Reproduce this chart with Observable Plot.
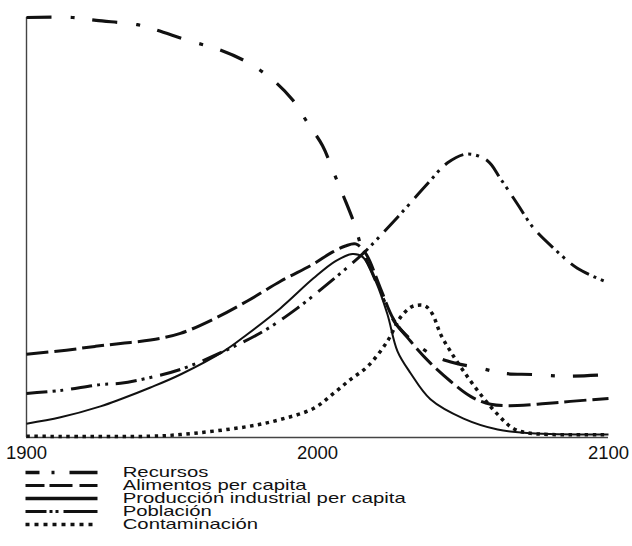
<!DOCTYPE html>
<html>
<head>
<meta charset="utf-8">
<script src="https://cdn.jsdelivr.net/npm/d3@7"></script>
<script src="https://cdn.jsdelivr.net/npm/@observablehq/plot@0.6"></script>
<style>
  html, body { margin: 0; padding: 0; background: #fff; }
  #chart svg, #legend svg { display: block; }
</style>
</head>
<body>
<div id="chart"></div>
<div id="legend"></div>
<script>
// Series values: [year, value (share of full height, 0-100)]
const recursos = [[1900,100],[1915.8,100],[1924,99.3],[1938,98.3],[1944.3,97.1],[1955.7,94.5],[1966,92.4],[1976,89.3],[1984.9,85],[1991.4,80.4],[1996.6,74.9],[2001.7,69.5],[2005.5,63.2],[2008.9,57.5],[2012.7,50.8],[2015.5,44.4],[2018.9,39.1],[2022.7,32.9],[2026.8,27.2],[2033.7,22.4],[2040.5,19.3],[2047.4,17.7],[2056,16.5],[2063.6,15.3],[2073.9,15],[2085.2,14.6],[2100,15]];
const alimentos = [[1900,19.8],[1913.7,20.8],[1923.7,21.7],[1932.3,22.4],[1942.6,23.2],[1952.9,24.8],[1964.3,28.2],[1975.9,32.5],[1987.3,37.2],[1998.6,41.3],[2004.5,43.9],[2009.6,45.6],[2013.1,46.1],[2016.5,43.9],[2021.6,35.6],[2026.1,28.2],[2032,22.9],[2038.8,17.7],[2045.7,13.4],[2052.6,9.8],[2059.5,7.9],[2068.7,7.6],[2078.4,8.1],[2086.9,8.6],[2100,9.3]];
const industrial = [[1900,3.3],[1911.7,4.8],[1925.4,7.4],[1932.3,9.1],[1942.6,11.9],[1952.9,15],[1967.7,20.5],[1975.9,24.6],[1987.3,30.8],[1998.6,37.9],[2006.2,42],[2012,43.7],[2015.5,43],[2020,37.2],[2024,29.4],[2027.5,20.5],[2032,15.3],[2038.8,9.1],[2050.2,4.5],[2061.9,1.9],[2073.2,1],[2100,0.7]];
const poblacion = [[1900,10.5],[1911.7,11.2],[1925.4,12.6],[1932.3,12.9],[1942.6,14.3],[1952.9,16.2],[1967.7,20.5],[1981.4,25.3],[1993.1,30.8],[2003.4,36.5],[2009.6,40.1],[2015.5,43.7],[2020.6,47.3],[2028.5,53.2],[2037.8,60.4],[2044.7,65.4],[2051.5,67.5],[2058.4,65.9],[2062.9,61.6],[2068.7,55.6],[2074.2,49.9],[2081.1,45.1],[2089.3,40.3],[2100,36.8]];
const contaminacion = [[1900,0.3],[1942.6,0.3],[1952.9,0.7],[1975.9,2.6],[1987.3,4.3],[1998.6,6.9],[2005.5,10.5],[2011.3,13.8],[2017.2,16.9],[2024,22.9],[2028.5,28.6],[2032,31],[2034.4,31.5],[2037.1,31.3],[2039.5,29.4],[2042.3,24.6],[2045.7,20.5],[2050.2,15.8],[2056,10.3],[2061.9,5.5],[2067.4,2.1],[2073.2,1],[2100,0.7]];

const seriesNames = ["Recursos", "Alimentos per capita", "Producción industrial per capita", "Población", "Contaminación"];
const xTicks = [1900, 2000, 2100];

const seriesData = [recursos, alimentos, industrial, poblacion, contaminacion];

// Styles (chart lines / legend swatches)
const chartStyles = [
  {dash: "25,19,4,18", width: 3.2},
  {dash: "22,6", width: 3},
  {dash: null, width: 2},
  {dash: "21,5,3,5,3,8", width: 3},
  {dash: "3.5,4.5", width: 3.5}
];
const legendStyles = [
  {dash: "14,12,3,15,40", width: 3.4},
  {dash: "19,5,23,7,40", width: 3},
  {dash: null, width: 3.6},
  {dash: "21,3,3,3,3,5,40", width: 3},
  {dash: "4,5", width: 3.6}
];
const ink = "#111";
const font = "'Liberation Sans', Arial, sans-serif";

const chart = Plot.plot({
  width: 632,
  height: 464,
  marginLeft: 26,
  marginRight: 24,
  marginTop: 17,
  marginBottom: 27,
  style: {fontFamily: font, background: "#fff", color: ink},
  x: {domain: [1900, 2100], axis: null},
  y: {domain: [0, 100], axis: null},
  marks: [
    Plot.ruleY([0], {stroke: "#444", strokeWidth: 1.4}),
    Plot.ruleX([1900], {stroke: "#444", strokeWidth: 1.4}),
    ...seriesData.map((s, i) => Plot.line(s, {
      x: d => d[0], y: d => d[1],
      curve: "catmull-rom",
      stroke: ink,
      strokeWidth: chartStyles[i].width,
      strokeDasharray: chartStyles[i].dash,
      strokeLinecap: "butt",
      strokeLinejoin: "round"
    })),
    Plot.text(xTicks, {x: d => d, y: () => 0, text: d => String(d), dy: 8, lineAnchor: "top", textAnchor: "middle", fontSize: 18.5, fill: ink})
  ]
});
document.getElementById("chart").appendChild(chart);

const legendLines = seriesNames.flatMap(n => [{name: n, t: 0}, {name: n, t: 1}]);

const legend = Plot.plot({
  width: 632,
  height: 82,
  style: {fontFamily: font, background: "#fff", color: ink},
  x: {domain: [0, 1], range: [25, 97], axis: null},
  y: {type: "point", domain: seriesNames, range: [6.5, 61.5], padding: 0, axis: null},
  marks: [
    ...seriesNames.map((n, i) => Plot.line(legendLines.filter(d => d.name === n), {
      x: "t", y: "name",
      stroke: ink,
      strokeWidth: legendStyles[i].width,
      strokeDasharray: legendStyles[i].dash,
      strokeLinecap: "butt"
    })),
    Plot.text(seriesNames, {x: () => 1, y: d => d, dx: 25, text: d => d, textAnchor: "start", lineAnchor: "middle", fontSize: 14.5, fill: ink})
  ]
});
document.getElementById("legend").appendChild(legend);
// Legend text in the reference is set horizontally wide: stretch glyphs about the text's left edge.
const tg = legend.querySelector('g[aria-label="text"]');
if (tg) {
  const wrap = document.createElementNS("http://www.w3.org/2000/svg", "g");
  wrap.setAttribute("transform", "translate(122,0) scale(1.4,1) translate(-122,0)");
  tg.parentNode.insertBefore(wrap, tg);
  wrap.appendChild(tg);
}
</script>
</body>
</html>
